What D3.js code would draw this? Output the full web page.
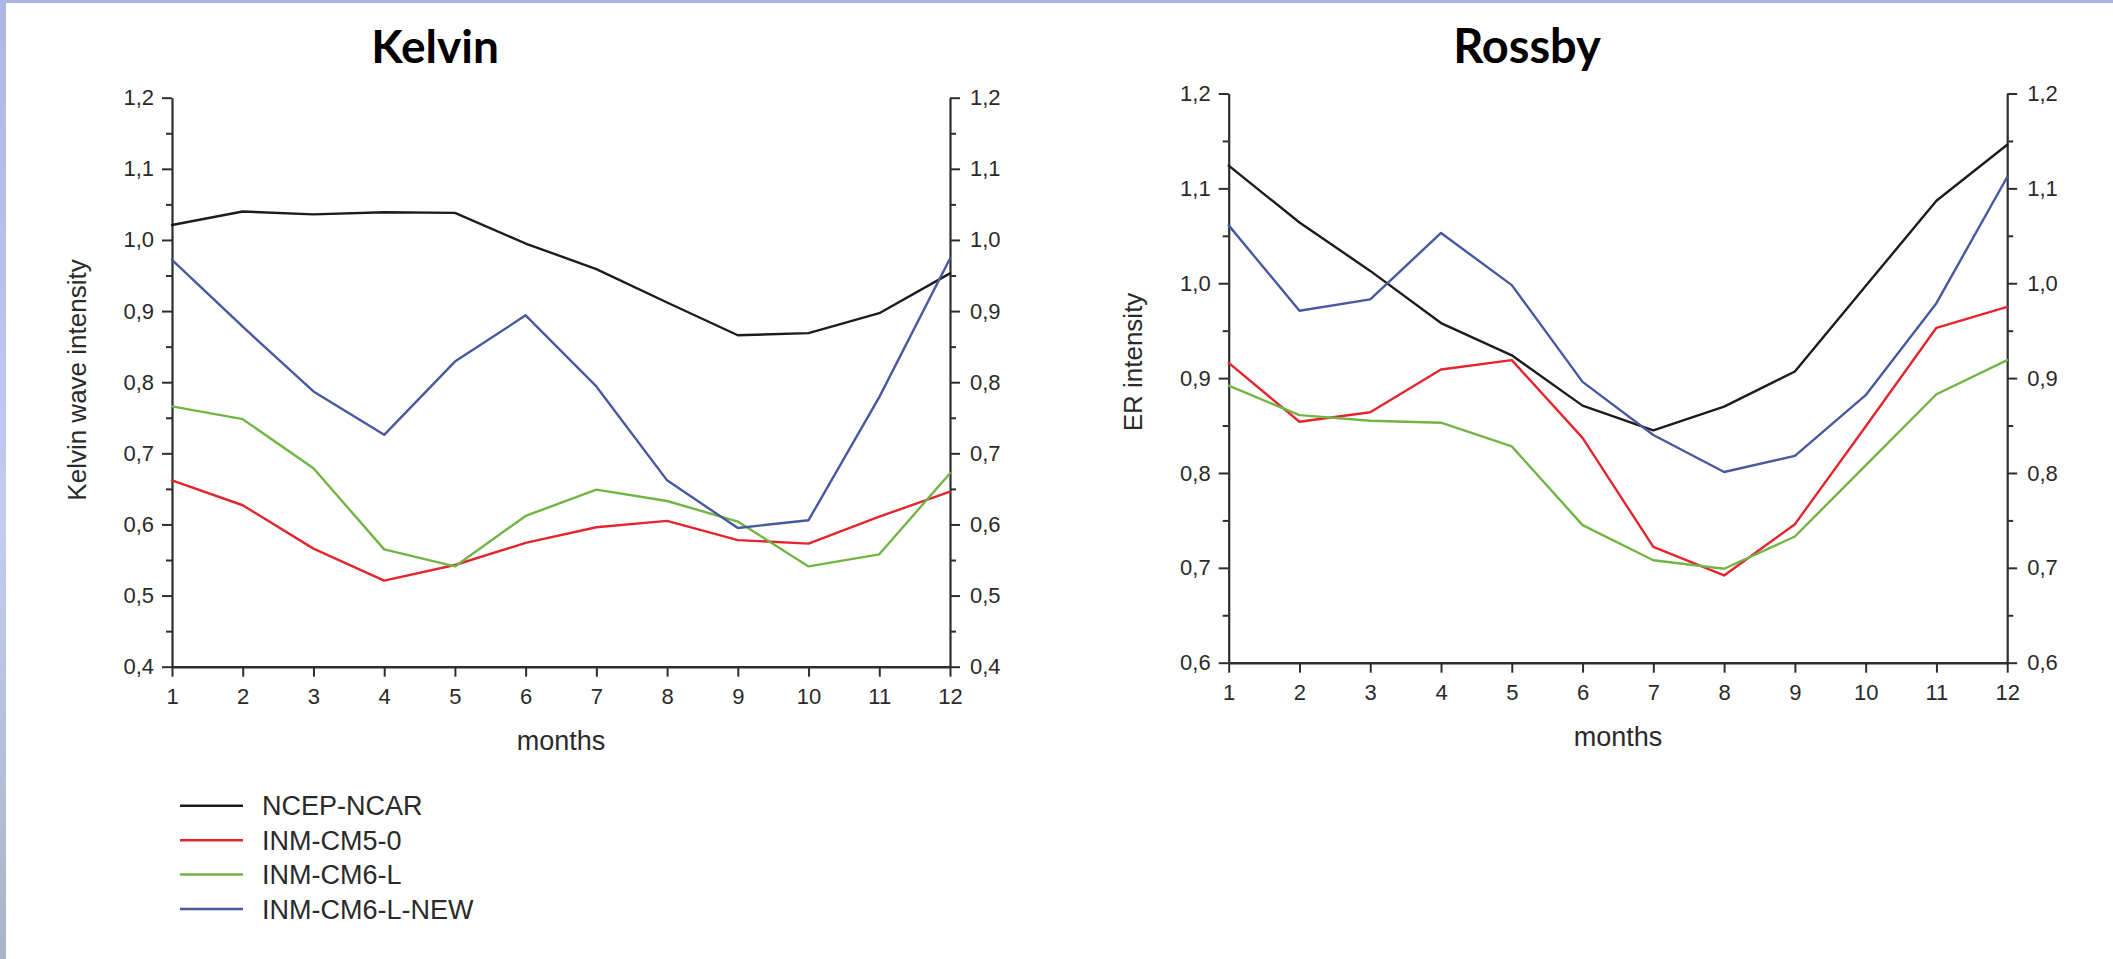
<!DOCTYPE html>
<html>
<head>
<meta charset="utf-8">
<script src="https://cdn.jsdelivr.net/npm/d3@7"></script>
<style>
  html, body { margin: 0; padding: 0; background: #ffffff; }
  svg { display: block; }
  text { font-family: "Liberation Sans", Arial, sans-serif; fill: #2a2a2a; }
</style>
</head>
<body>
<svg id="chart" width="2113" height="959"></svg>
<script>
// Months on the horizontal axis
const months = [1, 2, 3, 4, 5, 6, 7, 8, 9, 10, 11, 12];

// Series names, in legend order
const seriesNames = ["NCEP-NCAR", "INM-CM5-0", "INM-CM6-L", "INM-CM6-L-NEW"];
const seriesColors = ["#1c1c1c", "#e3262e", "#72b545", "#48599e"];

// Kelvin wave intensity by month
const kelvinNCEP     = [1.021, 1.040, 1.036, 1.039, 1.038, 0.995, 0.959, 0.912, 0.866, 0.869, 0.897, 0.953];
const kelvinCM5      = [0.662, 0.627, 0.566, 0.521, 0.543, 0.574, 0.596, 0.605, 0.578, 0.573, 0.611, 0.646];
const kelvinCM6L     = [0.766, 0.748, 0.679, 0.565, 0.541, 0.612, 0.649, 0.633, 0.604, 0.541, 0.558, 0.672];
const kelvinCM6LNew  = [0.972, 0.878, 0.787, 0.726, 0.829, 0.894, 0.794, 0.662, 0.595, 0.606, 0.779, 0.974];

// ER (equatorial Rossby) intensity by month
const rossbyNCEP     = [1.124, 1.064, 1.013, 0.958, 0.924, 0.871, 0.845, 0.870, 0.907, 0.997, 1.087, 1.146];
const rossbyCM5      = [0.916, 0.854, 0.864, 0.909, 0.919, 0.837, 0.722, 0.692, 0.746, 0.849, 0.953, 0.975];
const rossbyCM6L     = [0.892, 0.861, 0.855, 0.853, 0.828, 0.745, 0.708, 0.699, 0.733, 0.808, 0.883, 0.919];
const rossbyCM6LNew  = [1.061, 0.971, 0.983, 1.053, 0.998, 0.896, 0.840, 0.801, 0.818, 0.882, 0.979, 1.112];

// Axis tick values
const kelvinTicks = [0.4, 0.5, 0.6, 0.7, 0.8, 0.9, 1.0, 1.1, 1.2];
const kelvinMinor = [0.45, 0.55, 0.65, 0.75, 0.85, 0.95, 1.05, 1.15];
const rossbyTicks = [0.6, 0.7, 0.8, 0.9, 1.0, 1.1, 1.2];
const rossbyMinor = [0.65, 0.75, 0.85, 0.95, 1.05, 1.15];

const svg = d3.select("#chart");
const W = 2113, H = 959;

// Page backdrop: white sheet with a thin blue frame on the top and left edges
const defs = svg.append("defs");
const grad = defs.append("linearGradient").attr("id", "edgeGrad")
  .attr("x1", 0).attr("y1", 0).attr("x2", 0).attr("y2", 1);
grad.append("stop").attr("offset", "0%").attr("stop-color", "#aeb6e6");
grad.append("stop").attr("offset", "55%").attr("stop-color", "#c3ccf2");
grad.append("stop").attr("offset", "100%").attr("stop-color", "#a7b6c2");

svg.append("rect").attr("width", W).attr("height", H).attr("fill", "#ffffff");
svg.append("rect").attr("x", 0).attr("y", 0).attr("width", W).attr("height", 3).attr("fill", "#aab3e3");
svg.append("rect").attr("x", 0).attr("y", 0).attr("width", 6).attr("height", H).attr("fill", "url(#edgeGrad)");

const fmt = d => d3.format(".1f")(d).replace(".", ",");

function drawPanel(cfg, seriesValues) {
  const g = svg.append("g");
  const x = d3.scaleLinear().domain([1, 12]).range([cfg.left, cfg.right]);
  const y = d3.scaleLinear().domain(cfg.domain).range([cfg.bottom, cfg.top]);

  // Title
  g.append("text")
    .attr("x", cfg.titleX).attr("y", cfg.titleY)
    .attr("text-anchor", "middle")
    .style("font-family", "Lato, 'Open Sans', sans-serif")
    .style("font-weight", 700)
    .style("font-size", cfg.titleSize + "px")
    .style("fill", "#000")
    .text(cfg.title);

  const styleAxis = (sel, width) => {
    sel.select(".domain").attr("stroke", "#2e2e2e").attr("stroke-width", width);
    sel.selectAll(".tick line").attr("stroke", "#2e2e2e").attr("stroke-width", 2);
    sel.selectAll(".tick text")
      .style("font-size", "22px")
      .style("font-family", "'Liberation Sans', Arial, sans-serif")
      .attr("fill", "#2e2e2e");
  };

  // Left axis: major and minor ticks
  g.append("g").attr("transform", `translate(${cfg.left},0)`)
    .call(d3.axisLeft(y).tickValues(cfg.minor).tickSize(6).tickFormat(""))
    .call(s => { s.select(".domain").remove(); s.selectAll(".tick line").attr("stroke", "#2e2e2e").attr("stroke-width", 2); });
  g.append("g").attr("transform", `translate(${cfg.left},0)`)
    .call(d3.axisLeft(y).tickValues(cfg.ticks).tickSize(10).tickSizeOuter(0).tickPadding(8).tickFormat(fmt))
    .call(s => styleAxis(s, 2.2));

  // Right axis: major and minor ticks
  g.append("g").attr("transform", `translate(${cfg.right},0)`)
    .call(d3.axisRight(y).tickValues(cfg.minor).tickSize(6).tickFormat(""))
    .call(s => { s.select(".domain").remove(); s.selectAll(".tick line").attr("stroke", "#2e2e2e").attr("stroke-width", 2); });
  g.append("g").attr("transform", `translate(${cfg.right},0)`)
    .call(d3.axisRight(y).tickValues(cfg.ticks).tickSize(10).tickSizeOuter(0).tickPadding(10).tickFormat(fmt))
    .call(s => styleAxis(s, 2.2));

  // Bottom axis: months
  g.append("g").attr("transform", `translate(0,${cfg.bottom})`)
    .call(d3.axisBottom(x).tickValues(months).tickSize(10).tickSizeOuter(0).tickPadding(12).tickFormat(d3.format("d")))
    .call(s => styleAxis(s, 2.6));

  // Axis titles
  g.append("text")
    .attr("x", (cfg.left + cfg.right) / 2).attr("y", cfg.bottom + cfg.xTitleDy)
    .attr("text-anchor", "middle")
    .style("font-size", "27px")
    .text("months");

  g.append("text")
    .attr("transform", `translate(${cfg.yTitleX},${cfg.yTitleY}) rotate(-90)`)
    .attr("text-anchor", "middle")
    .style("font-size", "26px")
    .text(cfg.yTitle);

  // Data lines
  const line = d3.line().x((d, i) => x(months[i])).y(d => y(d));
  seriesValues.forEach((vals, k) => {
    g.append("path")
      .datum(vals)
      .attr("d", line)
      .attr("fill", "none")
      .attr("stroke", seriesColors[k])
      .attr("stroke-width", 2.4)
      .attr("stroke-linejoin", "round")
      .attr("stroke-linecap", "round");
  });
}

drawPanel({
  title: "Kelvin", titleX: 435, titleY: 63, titleSize: 46,
  left: 172, right: 950, top: 97.7, bottom: 666.7,
  domain: [0.4, 1.2], ticks: kelvinTicks, minor: kelvinMinor,
  yTitle: "Kelvin wave intensity", yTitleX: 86, yTitleY: 380,
  xTitleDy: 83
}, [kelvinNCEP, kelvinCM5, kelvinCM6L, kelvinCM6LNew]);

drawPanel({
  title: "Rossby", titleX: 1527, titleY: 63, titleSize: 47,
  left: 1228.7, right: 2007.2, top: 93.5, bottom: 662.7,
  domain: [0.6, 1.2], ticks: rossbyTicks, minor: rossbyMinor,
  yTitle: "ER intensity", yTitleX: 1142, yTitleY: 362,
  xTitleDy: 83
}, [rossbyNCEP, rossbyCM5, rossbyCM6L, rossbyCM6LNew]);

// Legend
const legend = svg.append("g");
const rowY = d3.scaleLinear().domain([0, 3]).range([805.7, 909]);
seriesNames.forEach((name, i) => {
  legend.append("line")
    .attr("x1", 180).attr("x2", 243)
    .attr("y1", rowY(i)).attr("y2", rowY(i))
    .attr("stroke", seriesColors[i]).attr("stroke-width", 2.5);
  legend.append("text")
    .attr("x", 262).attr("y", rowY(i))
    .attr("dy", "0.36em")
    .style("font-size", "27px")
    .text(name);
});
</script>
</body>
</html>
